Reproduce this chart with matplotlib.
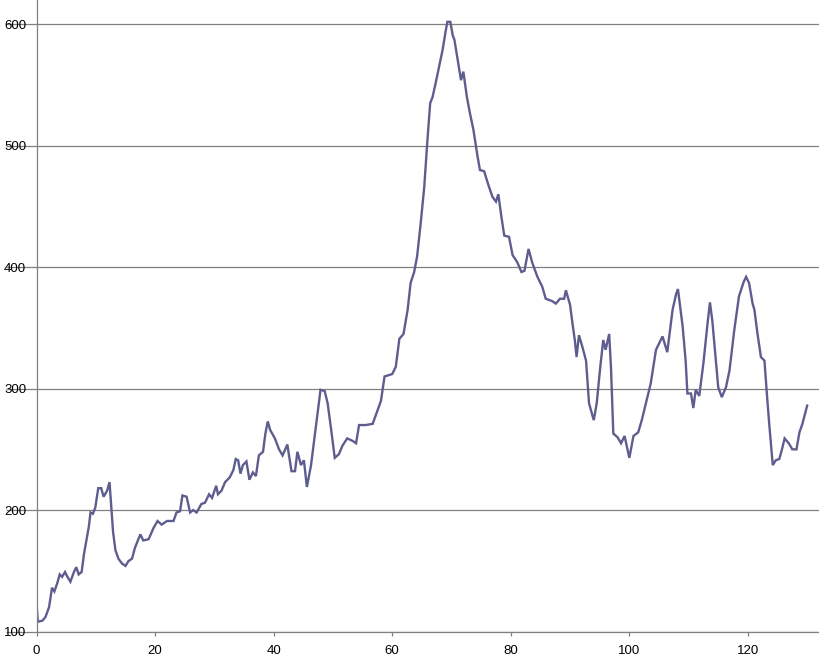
import matplotlib.pyplot as plt

# traced values (x, y)
xs = [0.0, 0.2, 1.0, 1.5, 2.1, 2.6, 3.0, 3.5, 3.9, 4.3, 4.8, 5.2, 5.7, 6.3, 6.7, 7.1, 7.6,
      8.0, 8.4, 8.8, 9.1, 9.5, 9.9, 10.4, 10.9, 11.3, 11.9, 12.3, 12.6, 12.9, 13.3, 13.8,
      14.4, 15.0, 15.5, 16.1, 16.6, 17.5, 18.0, 18.9, 19.7, 20.4, 21.1, 22.0, 23.1, 23.6,
      24.2, 24.6, 25.3, 25.9, 26.4, 27.0, 27.8, 28.4, 29.1, 29.6, 30.3, 30.6, 31.2, 31.8,
      32.6, 33.2, 33.6, 34.0, 34.4, 34.8, 35.4, 35.9, 36.5, 37.0, 37.5, 38.2, 38.6, 39.0,
      39.4, 40.2, 40.9, 41.5, 42.3, 43.0, 43.6, 44.0, 44.6, 45.1, 45.6, 46.3, 47.1, 47.9,
      48.6, 49.1, 49.7, 50.3, 51.0, 51.6, 52.4, 53.3, 53.9, 54.4, 55.5, 56.7, 57.5, 58.1,
      58.7, 60.0, 60.6, 61.2, 61.9, 62.6, 63.1, 63.7, 64.2, 64.8, 65.4, 65.9, 66.4, 66.8,
      67.3, 67.9, 68.5, 69.0, 69.3, 69.8, 70.2, 70.5, 71.1, 71.6, 72.0, 72.6, 73.1, 73.7,
      74.4, 74.8, 75.5, 76.2, 76.9, 77.5, 77.9, 78.4, 78.9, 79.7, 80.3, 81.1, 81.8, 82.3,
      83.0, 83.6, 84.5, 85.3, 85.9, 87.0, 87.6, 88.3, 89.0, 89.3, 90.0, 90.4, 90.8, 91.1,
      91.5, 92.1, 92.7, 93.2, 94.0, 94.5, 95.1, 95.6, 96.0, 96.6, 96.9, 97.3, 98.0, 98.6,
      99.2, 100.0, 100.7, 101.5, 102.1, 102.8, 103.6, 104.5, 105.0, 105.6, 106.4, 107.3,
      107.9, 108.2, 109.0, 109.5, 109.8, 110.4, 110.8, 111.2, 111.8, 112.5, 113.2, 113.6,
      114.0, 114.6, 115.0, 115.6, 116.3, 116.9, 117.7, 118.5, 119.3, 119.7, 120.2, 120.8,
      121.1, 121.6, 122.2, 122.8, 123.2, 123.6, 124.2, 124.7, 125.3, 125.7, 126.2, 126.9,
      127.5, 128.2, 128.7, 129.2, 130.0]
ys = [122, 108, 109, 112, 120, 136, 133, 140, 147, 145, 149, 145, 141, 149, 153, 147, 149,
      164, 175, 186, 198, 197, 202, 218, 218, 211, 216, 223, 202, 182, 167, 160,
      156, 154, 158, 160, 169, 180, 175, 176, 185, 191, 188, 191, 191, 198,
      199, 212, 211, 198, 200, 198, 205, 206, 213, 210, 220, 213, 216, 223,
      227, 233, 242, 241, 230, 237, 240, 225, 231, 228, 245, 248, 263, 273,
      266, 259, 250, 245, 254, 232, 232, 248, 237, 241, 219, 237, 268, 299,
      298, 288, 266, 243, 246, 253, 259, 257, 255, 270, 270, 271, 282, 290,
      310, 312, 318, 341, 345, 365, 387, 396, 409, 436, 466, 502, 535, 540,
      551, 565, 579, 594, 602, 602, 591, 587, 569, 554, 561, 540, 527, 513,
      491, 480, 479, 468, 458, 454, 460, 442, 426, 425, 410, 404, 396, 397,
      415, 404, 392, 384, 374, 372, 370, 374, 374, 381, 369, 354, 340, 326,
      344, 334, 323, 288, 274, 288, 318, 340, 332, 345, 318, 263, 260, 255,
      261, 243, 261, 264, 274, 288, 304, 332, 337, 343, 330, 365,
      378, 382, 351, 323, 296, 296, 284, 299, 294, 321, 354, 371,
      356, 323, 301, 293, 301, 315, 348, 376, 388, 392, 387, 370,
      365, 346, 326, 323, 296, 271, 237, 241, 242, 249, 259, 255,
      250, 250, 264, 271, 286]

xticks = [0, 20, 40, 60, 80, 100, 120]
yticks = [100, 200, 300, 400, 500, 600]

plt.rcParams['font.family'] = ['Liberation Sans', 'DejaVu Sans']

fig = plt.figure(figsize=(8.19, 6.57), dpi=100)
ax = fig.add_axes([36.6 / 819, 25.5 / 657, 1 - 36.6 / 819, 1 - 25.5 / 657])

ax.plot(xs, ys, color='#5d5d8f', lw=1.7, solid_joinstyle='miter')

ax.set_xlim(0, 132.0)
ax.set_ylim(100, 620)
ax.set_xticks(xticks)
ax.set_yticks(yticks)
ax.yaxis.grid(True, color='#808080', lw=0.9)
ax.set_axisbelow(True)

for s in ['top', 'right']:
    ax.spines[s].set_visible(False)
for s in ['left', 'bottom']:
    ax.spines[s].set_color('#808080')
    ax.spines[s].set_linewidth(0.9)

ax.tick_params(axis='y', length=22, width=0.9, color='#808080', pad=-14.5,
               labelsize=9.5, labelcolor='black')
ax.tick_params(axis='x', length=3, width=0.9, color='#808080', pad=7,
               labelsize=9.5, labelcolor='black')

fig.savefig('out.png', dpi=100)
